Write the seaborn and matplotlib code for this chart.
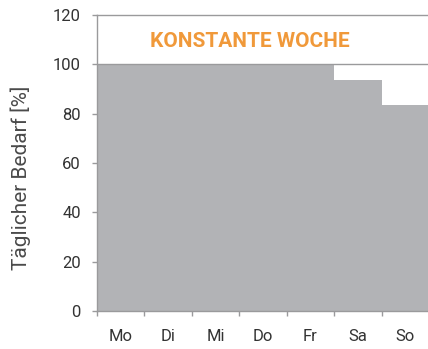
import matplotlib
matplotlib.use("Agg")
import matplotlib.pyplot as plt
import seaborn as sns
import numpy as np
import pandas as pd

days = ["Mo", "Di", "Mi", "Do", "Fr", "Sa", "So"]
demand = [100, 100, 100, 100, 100, 93.6, 83.5]
y_ticks = [0, 20, 40, 60, 80, 100, 120]
title_text = "KONSTANTE WOCHE"
y_label = "Täglicher Bedarf [%]"

sns.set_theme(style="white")
plt.rcParams["font.family"] = ["Roboto", "DejaVu Sans"]

bar_grey = "#b2b3b6"
spine_grey = "#9a9a9c"
orange = "#f0993a"

df = pd.DataFrame({"day": days, "demand": demand})

fig = plt.figure(figsize=(4.28, 3.49), dpi=100)
ax = fig.add_axes([97 / 428, 1 - 311 / 349, 332 / 428, 296 / 349])

sns.barplot(data=df, x="day", y="demand", width=1.0, color=bar_grey,
            saturation=1, edgecolor="none", linewidth=0, ax=ax)

ax.set_xlim(-0.5, len(days) - 0.5)
ax.set_ylim(0, 120)
ax.set_yticks(y_ticks)
ax.axhline(100, color=spine_grey, lw=1.0, zorder=3)

for side in ["left", "top", "bottom"]:
    ax.spines[side].set_visible(True)
    ax.spines[side].set_color(spine_grey)
    ax.spines[side].set_linewidth(1.0)
ax.spines["right"].set_visible(False)

# day labels centred in each bar, tick marks at bar boundaries
ax.set_xticks(range(len(days)))
ax.set_xticklabels(days)
ax.tick_params(axis="x", which="major", length=0, pad=13, labelsize=12,
               labelcolor="#333333")
ax.set_xticks(np.arange(len(days)) - 0.5, minor=True)
ax.tick_params(axis="x", which="minor", length=3.6, width=1, color=spine_grey,
               direction="out", bottom=True)
ax.tick_params(axis="y", which="major", length=3.6, width=1, color=spine_grey,
               direction="out", left=True, labelsize=12, labelcolor="#333333",
               pad=8)

ax.set_xlabel("")
ax.set_ylabel(y_label, fontsize=15, color="#4a4a4a",
              family=["Roboto", "DejaVu Sans"])
ax.yaxis.set_label_coords(-0.2, 0.45)

ax.text(2.73, 109.3, title_text, ha="center", va="center", color=orange,
        fontsize=15, fontweight="bold")

fig.savefig("out.png", dpi=100)
